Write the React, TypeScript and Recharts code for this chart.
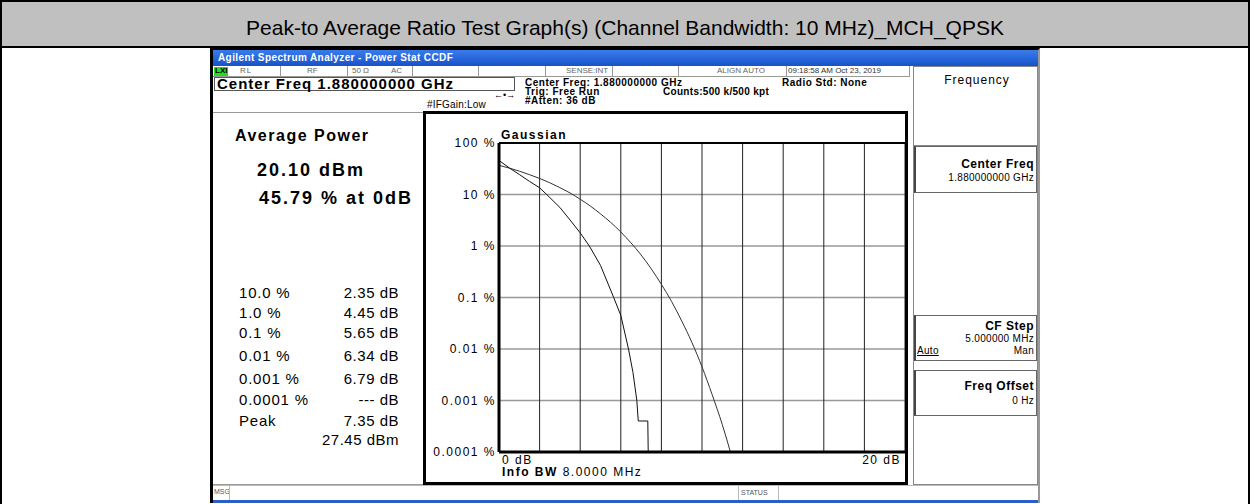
import React from 'react';
import { LineChart, Line, XAxis, YAxis, CartesianGrid, ReferenceLine } from 'recharts';

// CCDF traces (x: dB above average, y: probability %)
const gaussDb = [0, 0.5, 1, 1.5, 2, 2.5, 3, 3.5, 4, 4.5, 5, 5.5, 6, 6.5, 7, 7.5, 8, 8.5, 9, 9.5, 10, 10.5, 11, 11.4];
const gaussPct = [36.8, 32.6, 28.4, 24.3, 20.5, 16.9, 13.6, 10.7, 8.1, 5.97, 4.2, 2.88, 1.87, 1.15, 0.67, 0.36, 0.18, 0.084, 0.035, 0.0135, 0.0045, 0.0013, 0.00034, 0.0001];
const measDb = [0, 0.5, 1, 1.5, 2, 2.35, 3, 3.5, 4, 4.45, 5, 5.65, 6, 6.38, 6.6, 6.79, 6.86, 7.33, 7.35, 11.4];
const measPct = [45.79, 33, 24.5, 18, 13.5, 10, 5.6, 3.2, 1.8, 1, 0.42, 0.1, 0.045, 0.01, 0.0035, 0.001, 0.0004, 0.0004, 0.0001, 0.0001];

const yTicks = [100, 10, 1, 0.1, 0.01, 0.001, 0.0001];
const yTickLabels = ['100 %', '10 %', '1 %', '0.1 %', '0.01 %', '0.001 %', '0.0001 %'];
const xTicks = [0, 2, 4, 6, 8, 10, 12, 14, 16, 18, 20];

const tableLabels = ['10.0 %', '1.0 %', '0.1 %', '0.01 %', '0.001 %', '0.0001 %', 'Peak', ''];
const tableValues = ['2.35 dB', '4.45 dB', '5.65 dB', '6.34 dB', '6.79 dB', '--- dB', '7.35 dB', '27.45 dBm'];
const tableRowY = [293, 313, 333, 356, 379, 400, 421, 440];

const statusSeps = [280, 347, 412, 478, 545, 612, 678, 786];

const gaussData = gaussDb.map((db, i) => ({ db, pct: gaussPct[i] }));
const measData = measDb.map((db, i) => ({ db, pct: measPct[i] }));

const FONT = 'Arial, "Liberation Sans", sans-serif';

type TxtProps = {
  x: number; y: number; size: number; bold?: boolean; align?: 'left' | 'right' | 'center';
  color?: string; ls?: number; underline?: boolean; children: React.ReactNode;
};

const Txt = ({ x, y, size, bold, align = 'left', color = '#000', ls = 0, underline, children }: TxtProps) => {
  const h = Math.round(size * 1.2);
  const style: React.CSSProperties = {
    position: 'absolute', top: y - h / 2, height: h, lineHeight: `${h}px`, fontSize: size,
    fontFamily: FONT, fontWeight: bold ? 'bold' : 'normal', color, letterSpacing: ls,
    whiteSpace: 'nowrap', textDecoration: underline ? 'underline' : 'none',
  };
  if (align === 'left') style.left = x;
  if (align === 'right') style.right = 1250 - x;
  if (align === 'center') { style.left = x - 600; style.width = 1200; style.textAlign = 'center'; }
  return <div style={style}>{children}</div>;
};

const Box = ({ l, t, w, h, s }: { l: number; t: number; w: number; h: number; s?: React.CSSProperties }) => (
  <div style={{ position: 'absolute', left: l, top: t, width: w, height: h, boxSizing: 'border-box', ...s }} />
);

const YTick = ({ x, y, payload }: any) => {
  const i = yTicks.indexOf(payload.value);
  return (
    <text x={x - 3} y={y} dy={4} textAnchor="end" fontSize={12} fontFamily={FONT} fill="#000" letterSpacing={1.5}>
      {yTickLabels[i]}
    </text>
  );
};

const XTick = ({ x, y, payload }: any) => {
  if (payload.value === 0) {
    return <text x={x + 3} y={y} dy={12} textAnchor="start" fontSize={12} fontFamily={FONT} letterSpacing={1.5}>0 dB</text>;
  }
  if (payload.value === 20) {
    return <text x={x - 4} y={y} dy={12} textAnchor="end" fontSize={12} fontFamily={FONT} letterSpacing={1.5}>20 dB</text>;
  }
  return null;
};

const SoftKey = ({ top, h, title, titleY, lines }: { top: number; h: number; title: string; titleY: number; lines: React.ReactNode }) => (
  <>
    <Box l={914} t={top} w={123} h={h} s={{ border: '1px solid #666', borderLeft: '2px solid #444', background: '#fff' }} />
    <Txt x={1034} y={titleY} size={12} bold align="right" ls={0.5}>{title}</Txt>
    {lines}
  </>
);

export default function App() {
  return (
    <div style={{ position: 'absolute', left: 0, top: 0, width: 1250, height: 504, background: '#fff', overflow: 'hidden', fontFamily: FONT }}>
      {/* document table frame */}
      <Box l={0} t={0} w={1250} h={48} s={{ background: '#c0c0c0', border: '2px solid #000' }} />
      <Box l={0} t={46} w={1250} h={458} s={{ borderLeft: '2px solid #000', borderRight: '2px solid #000' }} />
      <Txt x={625} y={27} size={21} align="center">Peak-to Average Ratio Test Graph(s) (Channel Bandwidth: 10 MHz)_MCH_QPSK</Txt>

      {/* analyzer screenshot */}
      <Box l={210} t={48} w={830} h={455} s={{ borderLeft: '3px solid #000', borderTop: '2px solid #000', borderRight: '2px solid #999' }} />
      <Box l={213} t={50} w={825} h={16} s={{ background: 'linear-gradient(#3a7cec, #1852c8)' }} />
      <Txt x={218} y={58} size={10} bold color="#fff" ls={0.4}>Agilent Spectrum Analyzer - Power Stat CCDF</Txt>

      {/* status row */}
      <Box l={213} t={66} w={697} h={11} s={{ borderBottom: '1px solid #999', borderRight: '1px solid #999' }} />
      <Box l={214} t={67} w={14} h={9} s={{ background: '#22dd22' }} />
      <Txt x={215} y={71} size={8} bold color="#000">LXI</Txt>
      {statusSeps.map((sx) => <Box key={sx} l={sx} t={66} w={1} h={11} s={{ background: '#999' }} />)}
      <Txt x={240} y={71} size={8} color="#666" ls={1}>RL</Txt>
      <Txt x={307} y={71} size={8} color="#666">RF</Txt>
      <Txt x={352} y={71} size={8} color="#666">50 Ω</Txt>
      <Txt x={391} y={71} size={8} color="#666">AC</Txt>
      <Txt x={566} y={71} size={8} color="#666">SENSE:INT</Txt>
      <Txt x={717} y={71} size={8} color="#666">ALIGN AUTO</Txt>
      <Txt x={788} y={71} size={8} color="#333">09:18:58 AM Oct 23, 2019</Txt>

      {/* center freq row */}
      <Box l={214} t={77} w={301} h={14} s={{ border: '1px solid #555' }} />
      <Txt x={217} y={84} size={15} bold ls={1}>Center Freq 1.880000000 GHz</Txt>
      <Txt x={525} y={83} size={10} bold ls={0.5}>Center Freq: 1.880000000 GHz</Txt>
      <Txt x={525} y={92} size={10} bold ls={0.5}>Trig: Free Run</Txt>
      <Txt x={525} y={101} size={10} bold ls={0.5}>#Atten: 36 dB</Txt>
      <Txt x={663} y={92} size={10} bold ls={0.3}>Counts:500 k/500 kpt</Txt>
      <Txt x={782} y={83} size={10} bold ls={0.5}>Radio Std: None</Txt>
      <Txt x={427} y={105} size={10} ls={0.2}>#IFGain:Low</Txt>
      <Txt x={494} y={95} size={9}>←•→</Txt>

      {/* left result panel */}
      <Box l={213} t={112} w={211} h={373} s={{ borderTop: '1px solid #999', borderBottom: '1px solid #999' }} />
      <Txt x={235} y={135} size={16} bold ls={1.5}>Average Power</Txt>
      <Txt x={257} y={170} size={18} bold ls={2}>20.10 dBm</Txt>
      <Txt x={259} y={198} size={18} bold ls={2}>45.79 % at 0dB</Txt>
      {tableLabels.map((lab, i) => (
        <React.Fragment key={i}>
          {lab && <Txt x={239} y={tableRowY[i]} size={15} ls={0.8}>{lab}</Txt>}
          <Txt x={399} y={tableRowY[i]} size={15} align="right" ls={0.5}>{tableValues[i]}</Txt>
        </React.Fragment>
      ))}

      {/* plot frame */}
      <div style={{ position: 'absolute', left: 423, top: 111, width: 485, height: 374, border: '3px solid #000', boxSizing: 'border-box', background: '#fff' }}>
        <LineChart width={479} height={368} margin={{ top: 29, right: 0, bottom: 0, left: 0 }}>
          <CartesianGrid horizontal vertical={false} stroke="#999" strokeWidth={1.5} />
          <CartesianGrid horizontal={false} vertical stroke="#222" strokeWidth={1} />
          <XAxis type="number" dataKey="db" domain={[0, 20]} ticks={xTicks} interval={0} height={30}
            tick={<XTick />} tickLine={false} tickSize={0} tickMargin={0} axisLine={{ stroke: '#000', strokeWidth: 3 }} allowDuplicatedCategory={false} />
          <YAxis type="number" scale="log" domain={[0.0001, 100]} ticks={yTicks} interval={0} width={73} allowDataOverflow
            tick={<YTick />} tickLine={false} tickSize={0} tickMargin={0} axisLine={{ stroke: '#000', strokeWidth: 3 }} />
          <ReferenceLine y={100} stroke="#000" strokeWidth={2} />
          <Line data={gaussData} dataKey="pct" type="monotone" stroke="#333" strokeWidth={1} dot={false} isAnimationActive={false} />
          <Line data={measData} dataKey="pct" type="linear" stroke="#111" strokeWidth={1} dot={false} isAnimationActive={false} />
        </LineChart>
      </div>
      <Txt x={501} y={135} size={12} bold ls={1.5}>Gaussian</Txt>
      <Txt x={502} y={472} size={12} ls={1.5}><b>Info BW</b> 8.0000 MHz</Txt>

      {/* soft key panel */}
      <Box l={913} t={66} w={125} h={419} s={{ border: '1px solid #888', background: '#fff' }} />
      <Box l={914} t={67} w={123} h={79} s={{ borderBottom: '1px solid #888' }} />
      <Txt x={977} y={80} size={12} align="center" ls={1}>Frequency</Txt>
      <SoftKey top={146} h={47} title="Center Freq" titleY={164}
        lines={<Txt x={1034} y={178} size={10} align="right" ls={0.3}>1.880000000 GHz</Txt>} />
      <SoftKey top={315} h={46} title="CF Step" titleY={326}
        lines={<>
          <Txt x={1034} y={339} size={10} align="right" ls={0.3}>5.000000 MHz</Txt>
          <Txt x={917} y={351} size={10} underline ls={0.3}>Auto</Txt>
          <Txt x={1034} y={351} size={10} align="right" ls={0.3}>Man</Txt>
        </>} />
      <SoftKey top={370} h={46} title="Freq Offset" titleY={386}
        lines={<Txt x={1034} y={401} size={10} align="right" ls={0.3}>0 Hz</Txt>} />

      {/* message bar */}
      <Box l={213} t={485} w={825} h={15} s={{ borderTop: '1px solid #bbb' }} />
      <Txt x={214} y={492} size={7} color="#555">MSG</Txt>
      <Box l={229} t={486} w={1} h={14} s={{ background: '#bbb' }} />
      <Txt x={741} y={493} size={7} color="#555">STATUS</Txt>
      <Box l={738} t={486} w={1} h={14} s={{ background: '#bbb' }} />
      <Box l={778} t={486} w={1} h={14} s={{ background: '#bbb' }} />
      <Box l={213} t={500} w={825} h={3} s={{ background: '#2a5fc9' }} />
    </div>
  );
}
